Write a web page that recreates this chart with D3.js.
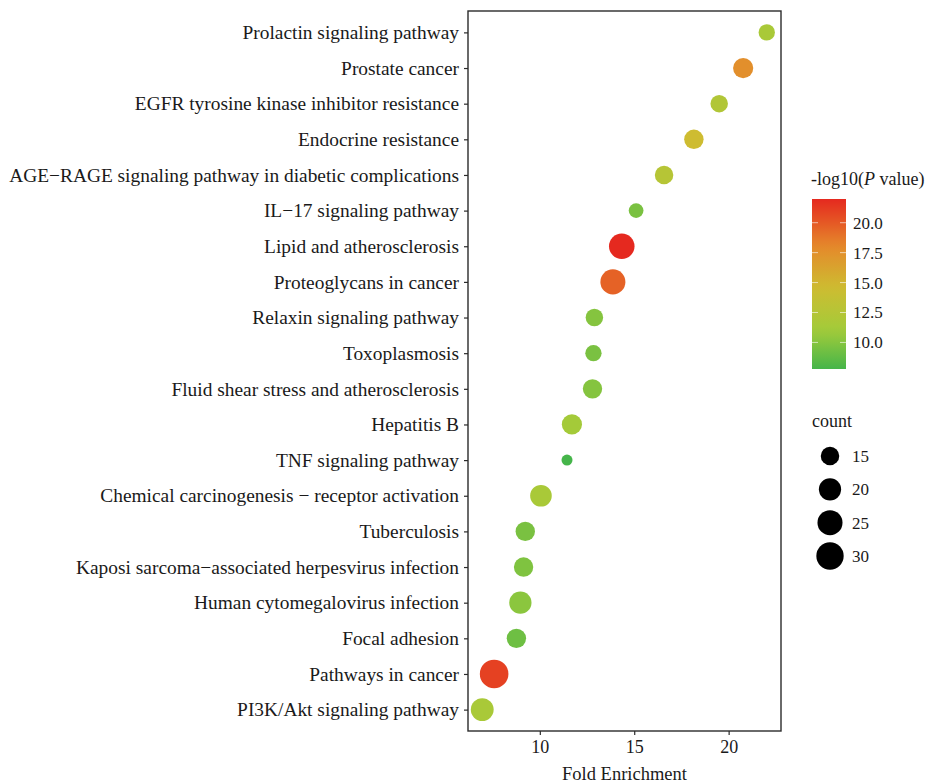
<!DOCTYPE html>
<html>
<head>
<meta charset="utf-8">
<script src="https://cdn.jsdelivr.net/npm/d3@7"></script>
<style>
  body { margin: 0; background: #fff; }
  svg text { font-family: "Liberation Serif", "Times New Roman", serif; fill: #1a1a1a; }
</style>
</head>
<body>
<div id="chart"></div>
<script>
// pathways, top to bottom as drawn
var pathways = [
    "Prolactin signaling pathway",
    "Prostate cancer",
    "EGFR tyrosine kinase inhibitor resistance",
    "Endocrine resistance",
    "AGE\u2212RAGE signaling pathway in diabetic complications",
    "IL\u221217 signaling pathway",
    "Lipid and atherosclerosis",
    "Proteoglycans in cancer",
    "Relaxin signaling pathway",
    "Toxoplasmosis",
    "Fluid shear stress and atherosclerosis",
    "Hepatitis B",
    "TNF signaling pathway",
    "Chemical carcinogenesis \u2212 receptor activation",
    "Tuberculosis",
    "Kaposi sarcoma\u2212associated herpesvirus infection",
    "Human cytomegalovirus infection",
    "Focal adhesion",
    "Pathways in cancer",
    "PI3K/Akt signaling pathway"
]
var foldEnrichment = [22.02, 20.77, 19.50, 18.16, 16.58, 15.10, 14.34, 13.87, 12.89, 12.84,
                      12.79, 11.70, 11.44, 10.06, 9.23, 9.14, 8.97, 8.76, 7.58, 6.95]
var geneCount = [13, 17, 14, 16, 15, 12, 26, 25, 14, 13,
                 16, 17, 11, 19, 16, 16, 20, 16, 33, 21]
var negLogP = [11.6, 17.6, 12.2, 14.6, 12.6, 9.6, 21.98, 19.6, 10.0, 9.6,
               10.0, 11.2, 7.78, 11.6, 9.6, 9.8, 10.2, 9.2, 21.0, 11.6]
var xTicks = [10, 15, 20]
var colorTicks = [10, 12.5, 15, 17.5, 20]
var countTicks = [15, 20, 25, 30]

var data = pathways.map(function(p, i) {
    return {name: p, fe: foldEnrichment[i], count: geneCount[i], p: negLogP[i]}
})

var svgWidth = 930, svgHeight = 784
var panel = {left: 468, right: 781, top: 11, bottom: 731}

var svg = d3.select("#chart").append("svg")
    .attr("width", svgWidth).attr("height", svgHeight)

// x scale with ggplot-like 5% expansion
var feExt = d3.extent(foldEnrichment)
var pad = (feExt[1] - feExt[0]) * 0.05
var xScale = d3.scaleLinear()
    .domain([feExt[0] - pad, feExt[1] + pad])
    .range([panel.left, panel.right])

var yScale = d3.scalePoint()
    .domain(pathways)
    .range([panel.top, panel.bottom])
    .padding(0.6)

var pExt = d3.extent(negLogP)
var colorScale = d3.scaleLinear()
    .domain([pExt[0], 11, 14.5, 18, pExt[1]])
    .range(["#45b54a", "#a2cb3a", "#cdbd31", "#e5892b", "#e5291f"])
    .clamp(true)

// area-style size (like ggplot scale_size): radius grows with sqrt of rescaled count
var cExt = d3.extent(geneCount)
var sizeScale = d3.scaleSqrt()
    .domain([0, cExt[1] - cExt[0]])
    .range([0, 14.3 - 5.5])
function radius(c) {
    return 5.5 + sizeScale(Math.max(0, c - cExt[0]))
}

// points
svg.append("g")
    .selectAll("circle")
    .data(data)
    .enter()
    .append("circle")
        .attr("cx", function(d) { return xScale(d.fe) })
        .attr("cy", function(d) { return yScale(d.name) })
        .attr("r", function(d) { return radius(d.count) })
        .attr("fill", function(d) { return colorScale(d.p) })

// panel border
svg.append("rect")
    .attr("x", panel.left).attr("y", panel.top)
    .attr("width", panel.right - panel.left)
    .attr("height", panel.bottom - panel.top)
    .attr("fill", "none")
    .attr("stroke", "#2b2b2b")
    .attr("stroke-width", 1.4)

// x axis
var xAxis = svg.append("g")
    .attr("transform", `translate(0, ${panel.bottom})`)
    .call(d3.axisBottom(xScale).tickValues(xTicks).tickSize(4).tickPadding(5))
xAxis.select(".domain").remove()
xAxis.selectAll("line").attr("stroke", "#2b2b2b").attr("stroke-width", 1.2)
xAxis.selectAll("text").attr("font-size", 18).attr("fill", "#333")

// y axis
var yAxis = svg.append("g")
    .attr("transform", `translate(${panel.left}, 0)`)
    .call(d3.axisLeft(yScale).tickSize(4).tickPadding(5))
yAxis.select(".domain").remove()
yAxis.selectAll("line").attr("stroke", "#2b2b2b").attr("stroke-width", 1.2)
yAxis.selectAll("text").attr("font-size", 19.4).attr("fill", "#1a1a1a")

// x axis title
svg.append("text")
    .attr("x", (panel.left + panel.right) / 2)
    .attr("y", 780)
    .attr("text-anchor", "middle")
    .attr("font-size", 18.5)
    .text("Fold Enrichment")

// colour legend
var bar = {x: 812, y: 199, w: 34, h: 170}
var grad = svg.append("defs").append("linearGradient")
    .attr("id", "pgrad").attr("x1", 0).attr("y1", 1).attr("x2", 0).attr("y2", 0)
d3.range(0, 1.0001, 0.05).forEach(function(t) {
    grad.append("stop")
        .attr("offset", t)
        .attr("stop-color", colorScale(pExt[0] + t * (pExt[1] - pExt[0])))
})
var legTitle = svg.append("text")
    .attr("x", 811).attr("y", 185)
    .attr("font-size", 18)
legTitle.append("tspan").text("-log10(")
legTitle.append("tspan").attr("font-style", "italic").text("P")
legTitle.append("tspan").text(" value)")

svg.append("rect")
    .attr("x", bar.x).attr("y", bar.y)
    .attr("width", bar.w).attr("height", bar.h)
    .attr("fill", "url(#pgrad)")

var barScale = d3.scaleLinear().domain(pExt).range([bar.y + bar.h, bar.y])
var cbTicks = svg.append("g")
cbTicks.selectAll("line.l")
    .data(colorTicks).enter().append("line")
        .attr("x1", bar.x).attr("x2", bar.x + 6)
        .attr("y1", function(d) { return barScale(d) })
        .attr("y2", function(d) { return barScale(d) })
        .attr("stroke", "#fff").attr("stroke-opacity", 0.6)
cbTicks.selectAll("line.r")
    .data(colorTicks).enter().append("line")
        .attr("x1", bar.x + bar.w - 6).attr("x2", bar.x + bar.w)
        .attr("y1", function(d) { return barScale(d) })
        .attr("y2", function(d) { return barScale(d) })
        .attr("stroke", "#fff").attr("stroke-opacity", 0.6)
cbTicks.selectAll("text")
    .data(colorTicks).enter().append("text")
        .attr("x", bar.x + bar.w + 7)
        .attr("y", function(d) { return barScale(d) })
        .attr("dy", "0.35em")
        .attr("font-size", 17)
        .attr("fill", "#333")
        .text(function(d) { return d3.format(".1f")(d) })

// size legend
svg.append("text")
    .attr("x", 812).attr("y", 427)
    .attr("font-size", 18)
    .text("count")
var sizeLeg = svg.append("g")
var legY = d3.scalePoint().domain(countTicks).range([456, 556])
sizeLeg.selectAll("circle")
    .data(countTicks).enter().append("circle")
        .attr("cx", 830)
        .attr("cy", function(d) { return legY(d) })
        .attr("r", function(d) { return radius(d) })
        .attr("fill", "#000")
sizeLeg.selectAll("text")
    .data(countTicks).enter().append("text")
        .attr("x", 852)
        .attr("y", function(d) { return legY(d) })
        .attr("dy", "0.35em")
        .attr("font-size", 17)
        .attr("fill", "#333")
        .text(function(d) { return d })
</script>
</body>
</html>
